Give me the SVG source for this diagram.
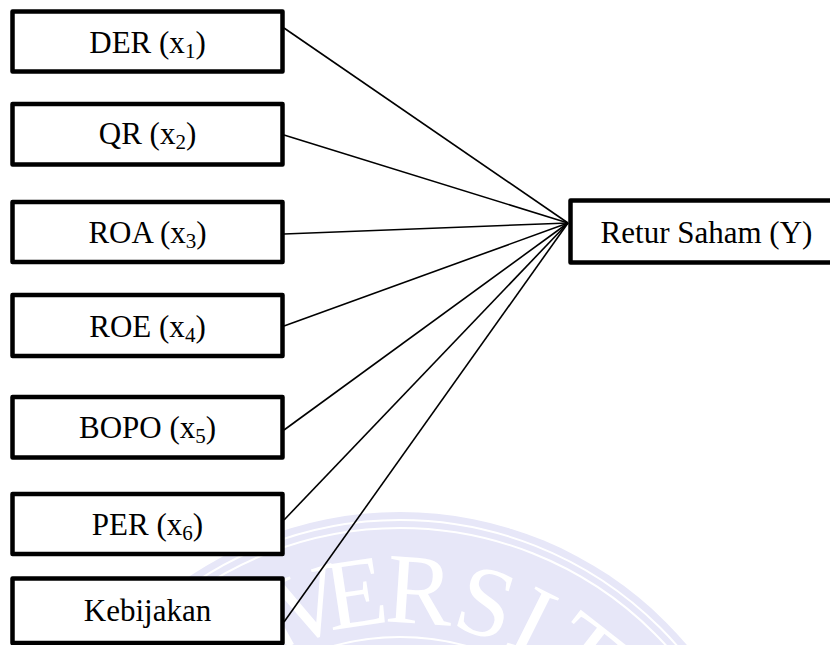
<svg xmlns="http://www.w3.org/2000/svg" width="830" height="645" viewBox="0 0 830 645">
<style>
.box{fill:#fff;stroke:#000;stroke-width:4.5;stroke-linejoin:round}
.lbl{font-family:"Liberation Serif","Times New Roman",serif;font-size:31px;fill:#000;text-anchor:middle}
.sub{font-size:21px}
.conn line{stroke:#000;stroke-width:1.6}
.wm{font-family:"Liberation Serif","Times New Roman",serif;font-size:100px;fill:#fff;text-anchor:middle}
.ring{fill:none;stroke:#fff;stroke-width:2}
</style>
<rect width="830" height="645" fill="#fff"/>
<g id="watermark">
<circle cx="400" cy="888" r="376" fill="#e7e7f8"/>
<circle class="ring" cx="400" cy="888" r="368"/>
<circle class="ring" cx="400" cy="888" r="360"/>
<circle class="ring" cx="400" cy="888" r="251" stroke-width="3" stroke="#f1f1fb"/>
<text class="wm" transform="translate(400 888) rotate(-29) translate(0 -265)">N</text>
<text class="wm" transform="translate(400 888) rotate(-18) translate(0 -265)">V</text>
<text class="wm" transform="translate(400 888) rotate(-8.6) translate(0 -265)">E</text>
<text class="wm" transform="translate(400 888) rotate(3.8) translate(0 -265)">R</text>
<text class="wm" transform="translate(400 888) rotate(16.8) translate(0 -265)">S</text>
<text class="wm" transform="translate(400 888) rotate(26.5) translate(0 -265)">I</text>
<text class="wm" transform="translate(400 888) rotate(38) translate(0 -265)">T</text>
</g>
<g id="connectors" class="conn">
<line x1="284" y1="28" x2="568" y2="223"/>
<line x1="284" y1="135" x2="568" y2="223"/>
<line x1="284" y1="234" x2="568" y2="223"/>
<line x1="284" y1="326" x2="568" y2="223"/>
<line x1="284" y1="430" x2="568" y2="223"/>
<line x1="284" y1="520" x2="568" y2="223"/>
<line x1="284" y1="622" x2="568" y2="223"/>
</g>
<g id="der"><rect class="box" x="12.5" y="11.5" width="270" height="60"/><text class="lbl" x="147.5" y="52.5">DER (x<tspan class="sub" dy="5">1</tspan><tspan dy="-5">)</tspan></text></g>
<g id="qr"><rect class="box" x="12.5" y="104" width="270" height="60.5"/><text class="lbl" x="147.5" y="144">QR (x<tspan class="sub" dy="5">2</tspan><tspan dy="-5">)</tspan></text></g>
<g id="roa"><rect class="box" x="12.5" y="202" width="270" height="60"/><text class="lbl" x="147.5" y="243">ROA (x<tspan class="sub" dy="5">3</tspan><tspan dy="-5">)</tspan></text></g>
<g id="roe"><rect class="box" x="12.5" y="295" width="270" height="61"/><text class="lbl" x="147.5" y="336.5">ROE (x<tspan class="sub" dy="5">4</tspan><tspan dy="-5">)</tspan></text></g>
<g id="bopo"><rect class="box" x="12.5" y="397" width="270" height="60.5"/><text class="lbl" x="147.5" y="438">BOPO (x<tspan class="sub" dy="5">5</tspan><tspan dy="-5">)</tspan></text></g>
<g id="per"><rect class="box" x="12.5" y="494" width="270" height="60"/><text class="lbl" x="147.5" y="535">PER (x<tspan class="sub" dy="5">6</tspan><tspan dy="-5">)</tspan></text></g>
<g id="kebijakan"><rect class="box" x="12.5" y="578.5" width="270" height="64.5"/><text class="lbl" x="147.5" y="621">Kebijakan</text></g>
<g id="retur"><rect class="box" x="570.5" y="200.5" width="280" height="62"/><text class="lbl" x="706.5" y="242.5">Retur Saham (Y)</text></g>
</svg>
